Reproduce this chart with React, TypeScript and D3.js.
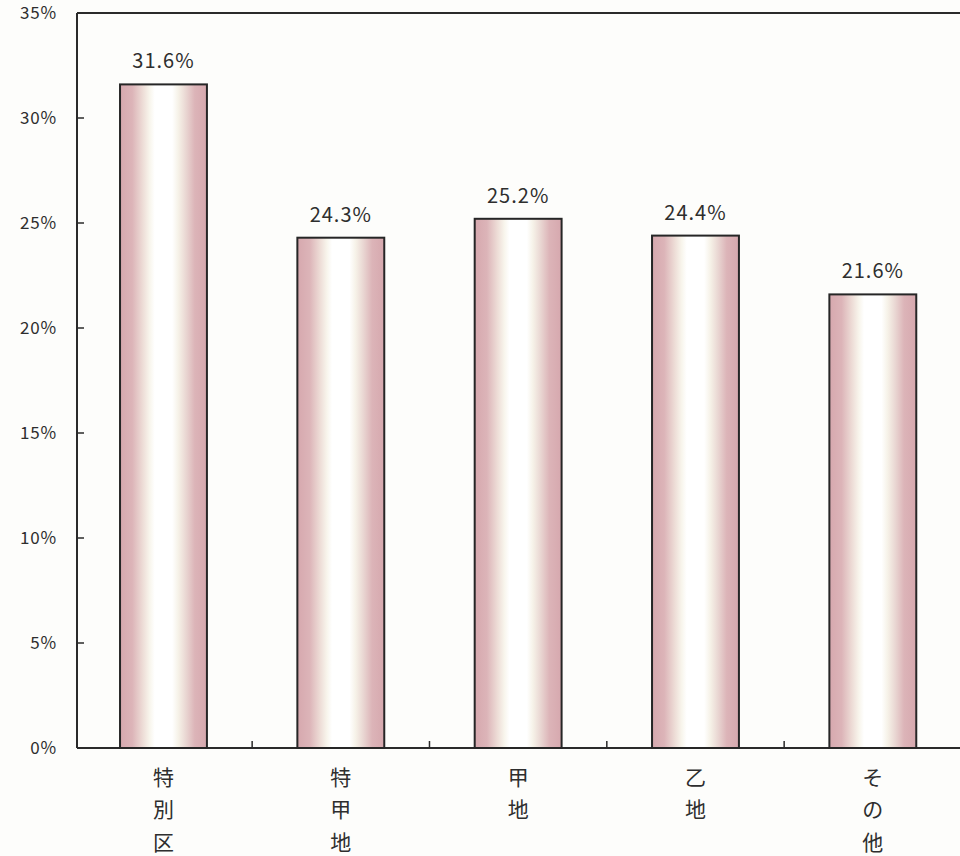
import React from "react";
import * as d3 from "d3";

const categories = ["特別区", "特甲地", "甲地", "乙地", "その他"];
const values = [31.6, 24.3, 25.2, 24.4, 21.6];
const yTicks = [0, 5, 10, 15, 20, 25, 30, 35];

const W = 960;
const H = 856;
const left = 77;
const top = 13;
const bottom = 748;

export default function App() {
  const x = d3
    .scaleBand<string>()
    .domain(categories)
    .range([75.7, 960.6])
    .paddingInner(0.51)
    .paddingOuter(0.25);
  const y = d3.scaleLinear().domain([0, 35]).range([bottom, top]);
  const step = x.step();
  const font = "'Noto Sans CJK JP', 'Noto Sans', sans-serif";
  const textColor = "#2e2e2e";

  return (
    <svg width={W} height={H} style={{ position: "absolute", left: 0, top: 0 }}>
      <defs>
        <linearGradient id="barGrad" x1="0" x2="1" y1="0" y2="0">
          <stop offset="0%" stopColor="#d6a8ae" />
          <stop offset="14%" stopColor="#dcb4b8" />
          <stop offset="26%" stopColor="#eddcd6" />
          <stop offset="34%" stopColor="#f8f5ec" />
          <stop offset="40%" stopColor="#ffffff" />
          <stop offset="60%" stopColor="#ffffff" />
          <stop offset="67%" stopColor="#f6f2e8" />
          <stop offset="76%" stopColor="#e9d6d2" />
          <stop offset="86%" stopColor="#dcb4b8" />
          <stop offset="100%" stopColor="#d6a8ae" />
        </linearGradient>
      </defs>
      <rect x={0} y={0} width={W} height={H} fill="#fdfdfb" />
      {/* plot frame */}
      <line x1={left} x2={left} y1={top} y2={bottom} stroke="#2a2a2a" strokeWidth={2} />
      <line x1={left} x2={W + 5} y1={top} y2={top} stroke="#2a2a2a" strokeWidth={2} />
      <line x1={left} x2={W + 5} y1={bottom} y2={bottom} stroke="#2a2a2a" strokeWidth={2} />
      {/* y ticks */}
      {yTicks.map((t) => (
        <g key={t}>
          {t > 0 && t < 35 && (
            <line x1={left} x2={left + 7} y1={y(t)} y2={y(t)} stroke="#2a2a2a" strokeWidth={1.5} />
          )}
          <text
            x={57}
            y={y(t)}
            dy="0.36em"
            textAnchor="end"
            fontFamily={font}
            fontSize={17}
            letterSpacing={0.8}
            fill={textColor}
          >
            {t}%
          </text>
        </g>
      ))}
      {/* x ticks between categories */}
      {categories.slice(0, -1).map((c) => (
        <line
          key={c}
          x1={(x(c) as number) + x.bandwidth() / 2 + step / 2}
          x2={(x(c) as number) + x.bandwidth() / 2 + step / 2}
          y1={bottom}
          y2={bottom - 7}
          stroke="#2a2a2a"
          strokeWidth={1.5}
        />
      ))}
      {/* bars */}
      {categories.map((c, i) => {
        const bx = x(c) as number;
        const bw = x.bandwidth();
        return (
          <g key={c}>
            <rect
              x={bx}
              y={y(values[i])}
              width={bw}
              height={bottom - y(values[i])}
              fill="url(#barGrad)"
              stroke="#262626"
              strokeWidth={2}
            />
            <text
              x={bx + bw / 2}
              y={y(values[i]) - 16}
              textAnchor="middle"
              fontFamily={font}
              fontSize={20}
              letterSpacing={1}
              fill={textColor}
            >
              {values[i].toFixed(1)}%
            </text>
            {Array.from(c).map((ch, j) => (
              <text
                key={j}
                x={bx + bw / 2}
                y={777 + j * 32.5}
                dy="0.36em"
                textAnchor="middle"
                fontFamily={font}
                fontSize={21}
                fill={textColor}
              >
                {ch}
              </text>
            ))}
          </g>
        );
      })}
    </svg>
  );
}
